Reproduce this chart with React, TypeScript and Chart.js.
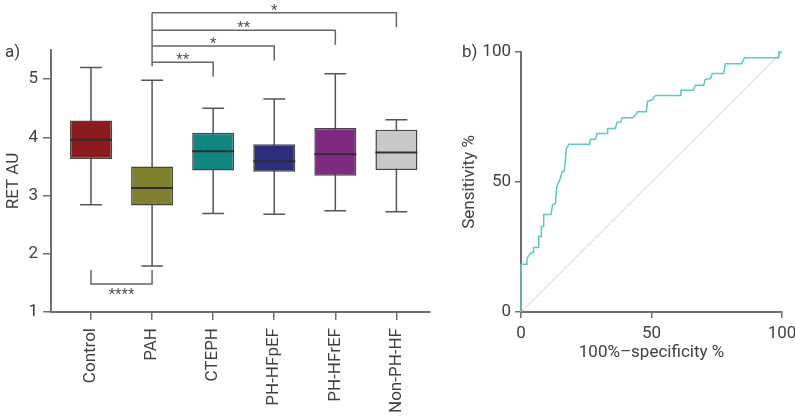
import React, { useEffect, useRef } from 'react';
import { Chart, registerables } from 'chart.js';

Chart.register(...registerables);

// ---------- Panel a) box plot data ----------
const categories = ['Control', 'PAH', 'CTEPH', 'PH-HFpEF', 'PH-HFrEF', 'Non-PH-HF'];
const whiskerLow = [2.84, 1.79, 2.69, 2.68, 2.74, 2.72];
const quartile1 = [3.63, 2.83, 3.43, 3.41, 3.34, 3.44];
const medians = [3.96, 3.13, 3.76, 3.59, 3.71, 3.74];
const quartile3 = [4.29, 3.5, 4.08, 3.88, 4.16, 4.13];
const whiskerHigh = [5.2, 4.98, 4.5, 4.66, 5.09, 4.3];
const boxColors = ['#8b1b1d', '#80802f', '#118580', '#2b2e7f', '#7f2a80', '#c8c8c8'];
const yTicksA = [1, 2, 3, 4, 5];

// significance brackets (PAH vs others), levels in RET AU units
const sigFrom = [1, 1, 1, 1];
const sigTo = [2, 3, 4, 5];
const sigLevel = [5.29, 5.57, 5.84, 6.14];
const sigLabels = ['**', '*', '**', '*'];
const lowSigPair = [0, 1];
const lowSigLevels = [1.48, 1.72];
const lowSigLabel = '****';

// ---------- Panel b) ROC data ----------
const rocFpr = [
  0, 0, 2.3, 2.3, 3.9, 4.8, 4.8, 6.8, 6.8, 7.8, 7.8, 8.7, 8.7, 11.5, 12.1, 13.2, 13.7, 15.1, 15.7, 16.6,
  17.4, 18.4, 26.3, 26.6, 28.5, 29.1, 33.0, 33.2, 36.1, 36.8, 38.3, 38.7, 43.0, 44.7, 48.0, 48.5, 50.2,
  51.5, 61.1, 61.3, 66.0, 66.8, 70.0, 70.6, 72.6, 73.3, 77.6, 78.3, 84.5, 85.6, 98.5, 98.8, 100,
];
const rocSens = [
  0, 18.4, 18.4, 20.7, 22.9, 22.9, 24.8, 24.8, 29.0, 29.0, 32.9, 32.9, 37.5, 37.5, 41.3, 41.6, 48.2, 51.4,
  54.0, 54.0, 62.9, 64.5, 64.5, 66.4, 66.4, 68.7, 68.7, 70.6, 70.6, 72.9, 73.1, 74.7, 74.7, 77.0, 77.0,
  81.1, 81.5, 83.3, 83.3, 85.3, 85.3, 87.2, 87.2, 89.5, 89.8, 91.7, 91.7, 95.5, 95.5, 97.8, 97.8, 100, 100,
];
const diagX = [0, 100];
const diagY = [0, 100];
const ticksB = [0, 50, 100];

const FONT = 'Roboto, "DejaVu Sans", sans-serif';
const TEXT = '#404040';
const AXIS = '#6e6e6e';

const boxPlugin = {
  id: 'boxExtras',
  beforeDatasetsDraw(chart: any) {
    const { ctx, scales } = chart;
    const x = scales.x;
    const y = scales.y;
    const meta = chart.getDatasetMeta(0);
    ctx.save();
    ctx.strokeStyle = '#555';
    ctx.lineWidth = 1.5;
    categories.forEach((_, i) => {
      const cx = x.getPixelForValue(i);
      const half = meta.data[i].width * 0.26;
      const yl = y.getPixelForValue(whiskerLow[i]);
      const yh = y.getPixelForValue(whiskerHigh[i]);
      ctx.beginPath();
      ctx.moveTo(cx, yl);
      ctx.lineTo(cx, yh);
      ctx.moveTo(cx - half, yl);
      ctx.lineTo(cx + half, yl);
      ctx.moveTo(cx - half, yh);
      ctx.lineTo(cx + half, yh);
      ctx.stroke();
    });
    ctx.restore();
  },
  afterDatasetsDraw(chart: any) {
    const { ctx, scales } = chart;
    const x = scales.x;
    const y = scales.y;
    const meta = chart.getDatasetMeta(0);
    ctx.save();
    // medians
    ctx.strokeStyle = '#2e2e2e';
    ctx.lineWidth = 2;
    categories.forEach((_, i) => {
      const cx = x.getPixelForValue(i);
      const half = meta.data[i].width / 2;
      const ym = y.getPixelForValue(medians[i]);
      ctx.beginPath();
      ctx.moveTo(cx - half, ym);
      ctx.lineTo(cx + half, ym);
      ctx.stroke();
    });
    // top brackets
    ctx.strokeStyle = '#666';
    ctx.lineWidth = 1.5;
    ctx.fillStyle = '#555';
    ctx.font = `15px ${FONT}`;
    ctx.textAlign = 'center';
    ctx.textBaseline = 'alphabetic';
    const lowest = Math.min(...sigLevel);
    const highest = Math.max(...sigLevel);
    const xl = x.getPixelForValue(sigFrom[0]);
    ctx.beginPath();
    ctx.moveTo(xl, y.getPixelForValue(highest));
    ctx.lineTo(xl, y.getPixelForValue(lowest - 0.07));
    ctx.stroke();
    sigTo.forEach((to, k) => {
      const x0 = x.getPixelForValue(sigFrom[k]);
      const x1 = x.getPixelForValue(to);
      const yb = y.getPixelForValue(sigLevel[k]);
      const yd = y.getPixelForValue(sigLevel[k] - 0.25);
      ctx.beginPath();
      ctx.moveTo(x0, yb);
      ctx.lineTo(x1, yb);
      ctx.lineTo(x1, yd);
      ctx.stroke();
      ctx.fillText(sigLabels[k], (x0 + x1) / 2, yb + 2);
    });
    // bottom bracket
    const bx0 = x.getPixelForValue(lowSigPair[0]);
    const bx1 = x.getPixelForValue(lowSigPair[1]);
    const by = y.getPixelForValue(lowSigLevels[0]);
    const byt = y.getPixelForValue(lowSigLevels[1]);
    ctx.beginPath();
    ctx.moveTo(bx0, byt);
    ctx.lineTo(bx0, by);
    ctx.lineTo(bx1, by);
    ctx.lineTo(bx1, byt);
    ctx.stroke();
    ctx.fillText(lowSigLabel, (bx0 + bx1) / 2, by + 15);
    // panel letter
    ctx.fillStyle = TEXT;
    ctx.font = `17px ${FONT}`;
    ctx.textAlign = 'left';
    ctx.textBaseline = 'middle';
    ctx.fillText('a)', 5, 53);
    ctx.restore();
  },
};

const letterB = {
  id: 'letterB',
  afterDraw(chart: any) {
    const { ctx } = chart;
    ctx.save();
    ctx.fillStyle = TEXT;
    ctx.font = `17px ${FONT}`;
    ctx.textAlign = 'left';
    ctx.textBaseline = 'middle';
    ctx.fillText('b)', 22, 53);
    ctx.restore();
  },
};

export default function App() {
  const refA = useRef<HTMLCanvasElement>(null);
  const refB = useRef<HTMLCanvasElement>(null);

  useEffect(() => {
    Chart.defaults.font.family = FONT;
    Chart.defaults.font.size = 17;
    Chart.defaults.color = TEXT;

    const chartA = new Chart(refA.current as HTMLCanvasElement, {
      type: 'bar',
      data: {
        datasets: [
          {
            data: categories.map((_, i) => ({ x: i, y: [quartile1[i], quartile3[i]] })) as any,
            backgroundColor: boxColors,
            borderColor: '#444',
            borderWidth: 1.5,
            borderSkipped: false,
            categoryPercentage: 1,
            barPercentage: 0.687,
          },
        ],
      },
      options: {
        animation: false,
        responsive: false,
        layout: { padding: { top: 50, right: 10, left: 0, bottom: 0 } },
        plugins: { legend: { display: false }, tooltip: { enabled: false } },
        scales: {
          x: {
            type: 'linear',
            min: -0.655,
            max: 5.55,
            offset: false,
            afterBuildTicks: (s: any) => {
              s.ticks = categories.map((_, i) => ({ value: i }));
            },
            afterFit: (s: any) => {
              s.height = 104;
              s.paddingLeft = 0;
              s.paddingRight = 0;
            },
            ticks: {
              callback: (v: any) => categories[v as number],
              minRotation: 90,
              maxRotation: 90,
              autoSkip: false,
              padding: 8,
              color: TEXT,
              font: { size: 17, family: FONT },
            },
            grid: { display: true, drawOnChartArea: false, drawTicks: true, tickLength: 8, color: AXIS, lineWidth: 1.5, offset: false },
            border: { display: true, color: AXIS, width: 2 },
          },
          y: {
            type: 'linear',
            min: 1,
            max: 5.5,
            afterBuildTicks: (s: any) => {
              s.ticks = yTicksA.map((v) => ({ value: v }));
            },
            afterFit: (s: any) => {
              s.width = 51;
              s.paddingTop = 0;
              s.paddingBottom = 0;
            },
            ticks: { padding: 5, color: TEXT, font: { size: 17, family: FONT } },
            grid: { display: true, drawOnChartArea: false, drawTicks: true, tickLength: 8, color: AXIS, lineWidth: 1.5 },
            border: { display: true, color: AXIS, width: 2 },
            title: { display: true, text: 'RET AU', color: TEXT, font: { size: 17, family: FONT }, padding: { top: 4, bottom: 0 } },
          },
        },
      } as any,
      plugins: [boxPlugin],
    });

    const chartB = new Chart(refB.current as HTMLCanvasElement, {
      type: 'scatter',
      data: {
        datasets: [
          {
            data: rocFpr.map((v, i) => ({ x: v, y: rocSens[i] })),
            showLine: true,
            borderColor: '#5cc7c7',
            borderWidth: 1.5,
            pointRadius: 0,
            tension: 0,
            clip: false,
            order: 0,
          },
          {
            data: diagX.map((v, i) => ({ x: v, y: diagY[i] })),
            showLine: true,
            borderColor: '#cdcdcd',
            borderWidth: 1,
            pointRadius: 0,
            order: 1,
          },
        ],
      },
      options: {
        animation: false,
        responsive: false,
        layout: { padding: { top: 52, right: 13, left: 0, bottom: 0 } },
        plugins: { legend: { display: false }, tooltip: { enabled: false } },
        scales: {
          x: {
            type: 'linear',
            min: 0,
            max: 100,
            afterBuildTicks: (s: any) => {
              s.ticks = ticksB.map((v) => ({ value: v }));
            },
            afterFit: (s: any) => {
              s.height = 104;
              s.paddingLeft = 0;
              s.paddingRight = 0;
            },
            ticks: { padding: 6, color: TEXT, maxRotation: 0, font: { size: 17, family: FONT } },
            grid: { display: true, drawOnChartArea: false, drawTicks: true, tickLength: 6, color: AXIS, lineWidth: 1.5 },
            border: { display: true, color: AXIS, width: 2 },
            title: { display: true, text: '100%–specificity %', color: TEXT, font: { size: 17, family: FONT }, padding: { top: 0, bottom: 53 } },
          },
          y: {
            type: 'linear',
            min: 0,
            max: 100,
            afterBuildTicks: (s: any) => {
              s.ticks = ticksB.map((v) => ({ value: v }));
            },
            afterFit: (s: any) => {
              s.width = 81;
              s.paddingTop = 0;
              s.paddingBottom = 0;
            },
            ticks: { padding: 4, color: TEXT, font: { size: 17, family: FONT } },
            grid: { display: true, drawOnChartArea: false, drawTicks: true, tickLength: 6, color: AXIS, lineWidth: 1.5 },
            border: { display: true, color: AXIS, width: 2 },
            title: { display: true, text: 'Sensitivity %', color: TEXT, font: { size: 17, family: FONT }, padding: { top: 20, bottom: 0 } },
          },
        },
      } as any,
      plugins: [letterB],
    });

    return () => {
      chartA.destroy();
      chartB.destroy();
    };
  }, []);

  return (
    <div style={{ position: 'absolute', left: 0, top: 0, width: 795, height: 416, background: '#fff' }}>
      <canvas ref={refA} width={440} height={416} style={{ position: 'absolute', left: 0, top: 0, width: 440, height: 416 }} />
      <canvas ref={refB} width={355} height={416} style={{ position: 'absolute', left: 440, top: 0, width: 355, height: 416 }} />
    </div>
  );
}
